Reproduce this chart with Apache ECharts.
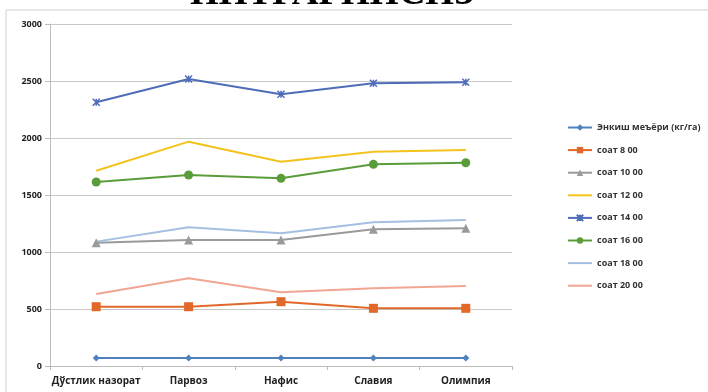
<!DOCTYPE html>
<html><head><meta charset="utf-8">
<script src="https://cdn.jsdelivr.net/npm/echarts@6/dist/echarts.min.js"></script>
<style>html,body{margin:0;padding:0;background:#fff;}#c{width:708px;height:392px;}</style>
</head><body><div id="c"></div>
<script>
const categories = ['Дўстлик назорат', 'Парвоз', 'Нафис', 'Славия', 'Олимпия'];
const seriesNames = ['Энкиш меъёри (кг/га)', 'соат 8 00', 'соат 10 00', 'соат 12 00', 'соат 14 00', 'соат 16 00', 'соат 18 00', 'соат 20 00'];
const norm = [70, 70, 70, 70, 70];
const h08 = [520, 520, 564, 506, 506];
const h10 = [1082, 1105, 1105, 1199, 1208];
const h12 = [1713, 1968, 1792, 1880, 1895];
const h14 = [2313, 2518, 2383, 2480, 2489];
const h16 = [1614, 1675, 1646, 1769, 1783];
const h18 = [1091, 1217, 1164, 1260, 1281];
const h20 = [632, 769, 646, 681, 702];
const yTicks = [0, 500, 1000, 1500, 2000, 2500, 3000];
const titleText = 'ПИТГАРИНСИЗ';

const dataList = [norm, h08, h10, h12, h14, h16, h18, h20];
const colors = ['#4f81bd', '#e0692a', '#9a9a9a', '#f3c31c', '#4e6cb8', '#5b9c3a', '#a4bfe0', '#f1a592'];
const symbols = ['diamond', 'rect', 'triangle', 'none', 'path://M0,0L10,10M10,0L0,10M5,0L5,10', 'circle', 'none', 'none'];
const sizes = [7, 9, 9, 0, 7, 9, 0, 0];

const chart = echarts.init(document.getElementById('c'));
chart.setOption({
  animation: false,
  backgroundColor: '#fff',
  graphic: [
    {type: 'rect', shape: {x: 6, y: 10, width: 720, height: 400}, style: {fill: 'none', stroke: '#d0d0d0', lineWidth: 1}, z: -1},
    {type: 'text', left: 190, top: -24, style: {text: titleText, font: 'bold 37px "Liberation Serif", serif', fill: '#000'}}
  ],
  grid: {left: 50, right: 196, top: 24, bottom: 26},
  legend: {
    orient: 'vertical', left: 562, top: 118, itemGap: 13.6, itemWidth: 24, itemHeight: 8,
    textStyle: {fontSize: 9, color: '#333', fontWeight: 'bold', fontFamily: '"Open Sans", sans-serif'},
    data: seriesNames.map((n, i) => symbols[i] === 'none' ? {name: n, itemStyle: {opacity: 0}} : {name: n})
  },
  xAxis: {
    type: 'category', data: categories, boundaryGap: true,
    axisLine: {lineStyle: {color: '#bbb'}},
    axisTick: {show: true, lineStyle: {color: '#bbb'}, length: 4},
    axisLabel: {interval: 0, fontSize: 10, color: '#222', fontWeight: 'bold', margin: 10, fontFamily: '"Open Sans", sans-serif'}
  },
  yAxis: {
    type: 'value', min: 0, max: 3000, interval: 500,
    axisLine: {show: true, lineStyle: {color: '#bbb'}},
    axisTick: {show: true, inside: false, length: 5, lineStyle: {color: '#bbb'}},
    splitLine: {lineStyle: {color: '#c8c8c8'}},
    axisLabel: {formatter: v => String(v), fontSize: 9, color: '#222', fontWeight: 'bold', margin: 8, fontFamily: '"Open Sans", sans-serif'}
  },
  series: seriesNames.map((n, i) => ({
    name: n, type: 'line', data: dataList[i],
    color: colors[i],
    symbol: symbols[i], symbolSize: sizes[i], showSymbol: symbols[i] !== 'none',
    lineStyle: {width: 2, color: colors[i]},
    itemStyle: {color: colors[i], borderColor: colors[i], borderWidth: i === 4 ? 1.5 : 0}
  }))
});
</script></body></html>
